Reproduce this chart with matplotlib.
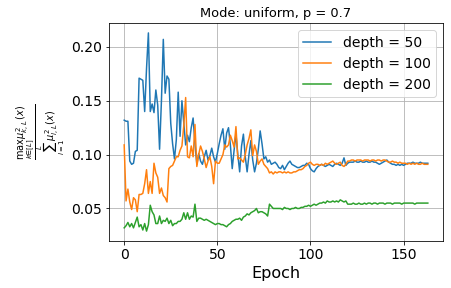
import numpy as np
import matplotlib
matplotlib.use("Agg")
import matplotlib.pyplot as plt

# values, one per epoch (0..163)
depth_50 = [
    0.132, 0.131, 0.131, 0.094, 0.091, 0.092, 0.103, 0.104, 0.171, 0.170,
    0.169, 0.140, 0.180, 0.213, 0.140, 0.147, 0.139, 0.160, 0.146, 0.105,
    0.150, 0.207, 0.157, 0.173, 0.170, 0.129, 0.110, 0.096, 0.114, 0.158,
    0.117, 0.150, 0.130, 0.109, 0.118, 0.112, 0.125, 0.134, 0.110, 0.091,
    0.101, 0.094, 0.091, 0.098, 0.104, 0.095, 0.099, 0.106, 0.098, 0.093,
    0.101, 0.110, 0.118, 0.124, 0.105, 0.120, 0.125, 0.109, 0.087, 0.104,
    0.119, 0.100, 0.084, 0.108, 0.119, 0.098, 0.084, 0.100, 0.113, 0.095,
    0.084, 0.092, 0.105, 0.122, 0.110, 0.096, 0.098, 0.093, 0.095, 0.091,
    0.092, 0.093, 0.091, 0.088, 0.087, 0.090, 0.086, 0.089, 0.092, 0.094,
    0.091, 0.090, 0.089, 0.088, 0.088, 0.089, 0.090, 0.090, 0.092, 0.091,
    0.087, 0.085, 0.084, 0.087, 0.089, 0.090, 0.091, 0.090, 0.089, 0.090,
    0.091, 0.090, 0.089, 0.091, 0.092, 0.091, 0.090, 0.092, 0.097, 0.090,
    0.092, 0.093, 0.093, 0.093, 0.094, 0.093, 0.093, 0.094, 0.093, 0.093,
    0.094, 0.093, 0.093, 0.094, 0.093, 0.093, 0.092, 0.091, 0.092, 0.093,
    0.094, 0.095, 0.093, 0.092, 0.091, 0.091, 0.090, 0.091, 0.090, 0.091,
    0.090, 0.091, 0.092, 0.092, 0.092, 0.093, 0.092, 0.092, 0.092, 0.093,
    0.092, 0.092, 0.092, 0.092,
]
depth_100 = [
    0.109, 0.057, 0.068, 0.056, 0.049, 0.060, 0.058, 0.047, 0.063, 0.063,
    0.064, 0.073, 0.086, 0.064, 0.075, 0.064, 0.092, 0.083, 0.079, 0.064,
    0.069, 0.062, 0.060, 0.056, 0.087, 0.089, 0.090, 0.094, 0.098, 0.098,
    0.104, 0.108, 0.127, 0.153, 0.098, 0.097, 0.108, 0.098, 0.128, 0.089,
    0.100, 0.108, 0.103, 0.096, 0.088, 0.094, 0.098, 0.089, 0.073, 0.094,
    0.092, 0.092, 0.096, 0.100, 0.109, 0.107, 0.109, 0.118, 0.113, 0.107,
    0.126, 0.096, 0.097, 0.095, 0.093, 0.100, 0.109, 0.115, 0.123, 0.099,
    0.109, 0.103, 0.091, 0.094, 0.096, 0.091, 0.089, 0.087, 0.083, 0.084,
    0.082, 0.084, 0.083, 0.084, 0.084, 0.083, 0.084, 0.083, 0.084, 0.083,
    0.083, 0.084, 0.084, 0.085, 0.086, 0.086, 0.087, 0.089, 0.090, 0.092,
    0.093, 0.091, 0.090, 0.091, 0.091, 0.090, 0.091, 0.090, 0.092, 0.091,
    0.092, 0.093, 0.094, 0.092, 0.091, 0.092, 0.093, 0.090, 0.089, 0.091,
    0.094, 0.094, 0.095, 0.095, 0.094, 0.095, 0.095, 0.095, 0.094, 0.095,
    0.095, 0.095, 0.094, 0.095, 0.095, 0.094, 0.095, 0.095, 0.094, 0.095,
    0.095, 0.094, 0.093, 0.093, 0.094, 0.093, 0.093, 0.092, 0.093, 0.092,
    0.092, 0.092, 0.091, 0.092, 0.091, 0.092, 0.091, 0.092, 0.091, 0.091,
    0.092, 0.091, 0.091, 0.091,
]
depth_200 = [
    0.032, 0.034, 0.037, 0.033, 0.036, 0.032, 0.037, 0.042, 0.033, 0.035,
    0.030, 0.036, 0.029, 0.035, 0.053, 0.047, 0.044, 0.036, 0.036, 0.043,
    0.036, 0.039, 0.038, 0.041, 0.036, 0.039, 0.034, 0.036, 0.036, 0.038,
    0.038, 0.040, 0.046, 0.040, 0.046, 0.040, 0.043, 0.042, 0.054, 0.038,
    0.041, 0.041, 0.040, 0.039, 0.040, 0.039, 0.038, 0.037, 0.036, 0.035,
    0.036, 0.036, 0.035, 0.035, 0.034, 0.033, 0.035, 0.036, 0.038, 0.039,
    0.040, 0.040, 0.041, 0.039, 0.042, 0.043, 0.045, 0.044, 0.046, 0.047,
    0.048, 0.050, 0.046, 0.047, 0.047, 0.046, 0.045, 0.043, 0.054, 0.052,
    0.050, 0.050, 0.050, 0.050, 0.050, 0.049, 0.051, 0.050, 0.050, 0.049,
    0.050, 0.050, 0.051, 0.050, 0.050, 0.051, 0.051, 0.052, 0.052, 0.053,
    0.052, 0.053, 0.054, 0.053, 0.054, 0.055, 0.055, 0.056, 0.055, 0.057,
    0.056, 0.056, 0.057, 0.056, 0.057, 0.056, 0.058, 0.057, 0.056, 0.057,
    0.054, 0.054, 0.054, 0.055, 0.054, 0.054, 0.055, 0.054, 0.054, 0.055,
    0.054, 0.055, 0.055, 0.054, 0.055, 0.055, 0.054, 0.055, 0.055, 0.055,
    0.054, 0.055, 0.055, 0.055, 0.054, 0.055, 0.055, 0.055, 0.055, 0.054,
    0.055, 0.055, 0.055, 0.055, 0.055, 0.055, 0.054, 0.055, 0.055, 0.055,
    0.055, 0.055, 0.055, 0.055,
]
series = {"depth = 50": depth_50, "depth = 100": depth_100, "depth = 200": depth_200}

fig = plt.figure(figsize=(451 / 72, 288 / 72), dpi=72)
ax = fig.add_axes([109 / 451, 1 - 241 / 288, (443 - 109) / 451, (241 - 23) / 288])

for name, vals in series.items():
    ax.plot(np.arange(len(vals)), vals, label=name, linewidth=1.5)

ax.grid(True)
ax.set_title("Mode: uniform, p = 0.7", fontsize=13)
ax.set_xlabel("Epoch", fontsize=16)
ax.set_ylabel(r"$\frac{\max_{k \in [L]} \mu^2_{k,L}(x)}{\sum_{l=1}^{L} \mu^2_{l,L}(x)}$", fontsize=14)
ax.tick_params(labelsize=14)
ax.legend(fontsize=14, loc="upper right")

fig.savefig("out.png", dpi=72)
